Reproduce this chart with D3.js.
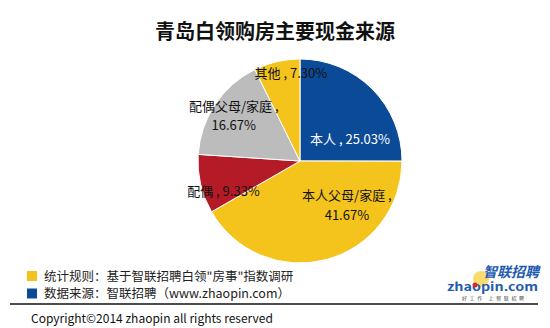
<!DOCTYPE html>
<html><head><meta charset="utf-8">
<script src="https://cdn.jsdelivr.net/npm/d3@7/dist/d3.min.js"></script>
<style>body{margin:0;background:#fff}svg{display:block}text{font-family:"Noto Sans CJK SC","Microsoft YaHei",sans-serif}</style>
</head><body>
<script>
const categories = ["本人", "本人父母/家庭", "配偶", "配偶父母/家庭", "其他"];
const values = [25.03, 41.67, 9.33, 16.67, 7.30];
const colors = ["#0B4A97", "#F5C41C", "#B51B26", "#BCBCBD", "#F5C41C"];
const labelColors = ["#fff", "#111", "#111", "#111", "#111"];
const title = "青岛白领购房主要现金来源";
const notes = ["统计规则：基于智联招聘白领\"房事\"指数调研", "数据来源：智联招聘（www.zhaopin.com）"];
const noteColors = ["#F5C41C", "#0B4A97"];
const copyright = "Copyright©2014 zhaopin all rights reserved";

// label layout (offset from pie centre, in radius units; whether to break line)
const labelLayout = [
  {dx: 0.49, dy: -0.22, wrap: false},
  {dx: 0.46, dy: 0.43, wrap: true},
  {dx: -0.75, dy: 0.29, wrap: false},
  {dx: -0.65, dy: -0.45, wrap: true},
  {dx: -0.09, dy: -0.87, wrap: false}
];

const W = 550, H = 328;
const svg = d3.select("body").append("svg").attr("width", W).attr("height", H);

svg.append("text").attr("x", 275).attr("y", 30).attr("text-anchor", "middle")
  .attr("dominant-baseline", "central").attr("font-size", 20).attr("font-weight", "bold")
  .attr("fill", "#111").text(title);

const cx = 300, cy = 161, r = 102;
const pie = d3.pie().sort(null).value(d => d)(values);
const arc = d3.arc().innerRadius(0).outerRadius(r);
const g = svg.append("g").attr("transform", `translate(${cx},${cy})`);
g.selectAll("path").data(pie).join("path")
  .attr("d", arc).attr("fill", (d, i) => colors[i])
  .attr("stroke", "#fff").attr("stroke-width", 1);

const fmt = d3.format(".2f");
pie.forEach((d, i) => {
  const L = labelLayout[i];
  const t = g.append("text").attr("x", L.dx * r).attr("y", L.dy * r)
    .attr("text-anchor", "middle").attr("font-size", 13).attr("fill", labelColors[i]);
  const pct = fmt(values[i]) + "%";
  if (L.wrap) {
    t.append("tspan").attr("x", L.dx * r).attr("dy", "-0.35em").text(categories[i] + " ,");
    t.append("tspan").attr("x", L.dx * r).attr("dy", "1.5em").text(pct);
  } else {
    t.attr("dominant-baseline", "central").text(categories[i] + " , " + pct);
  }
});

// footer area covering pie bottom
svg.append("rect").attr("x", 0).attr("y", 264).attr("width", W).attr("height", H - 264).attr("fill", "#fff");

notes.forEach((n, i) => {
  const y = 275 + i * 17.5;
  svg.append("rect").attr("x", 27).attr("y", y - 4).attr("width", 10).attr("height", 10).attr("fill", noteColors[i]);
  svg.append("text").attr("x", 44).attr("y", y).attr("dominant-baseline", "central")
    .attr("font-size", 12.5).attr("fill", "#222").text(n);
});

svg.append("line").attr("x1", 10).attr("x2", 538).attr("y1", 304).attr("y2", 304)
  .attr("stroke", "#111").attr("stroke-width", 1.5);

svg.append("text").attr("x", 31).attr("y", 317).attr("dominant-baseline", "central")
  .attr("font-size", 12).attr("fill", "#111").text(copyright);

// logo
const lg = svg.append("g");
lg.append("circle").attr("cx", 481).attr("cy", 279).attr("r", 8).attr("fill", "#F8D34A").attr("opacity", 0.8);
lg.append("text").attr("x", 483).attr("y", 271).attr("dominant-baseline", "central")
  .attr("font-size", 14).attr("font-weight", "bold").attr("font-style", "italic").attr("fill", "#1F5BB0")
  .attr("textLength", 56).attr("lengthAdjust", "spacingAndGlyphs").text("智联招聘");
lg.append("text").attr("x", 447).attr("y", 286).attr("dominant-baseline", "central")
  .attr("font-size", 11).attr("font-weight", "bold").attr("fill", "#1F5BB0")
  .attr("textLength", 91).attr("lengthAdjust", "spacingAndGlyphs").text("zhaopin.com");
lg.append("circle").attr("cx", 475).attr("cy", 285).attr("r", 2.5).attr("fill", "#D42A2A");
lg.append("text").attr("x", 462).attr("y", 297.5).attr("dominant-baseline", "central")
  .attr("font-size", 5).attr("fill", "#444")
  .attr("textLength", 62).attr("lengthAdjust", "spacing").text("好工作 上智联招聘");
</script>
</body></html>
